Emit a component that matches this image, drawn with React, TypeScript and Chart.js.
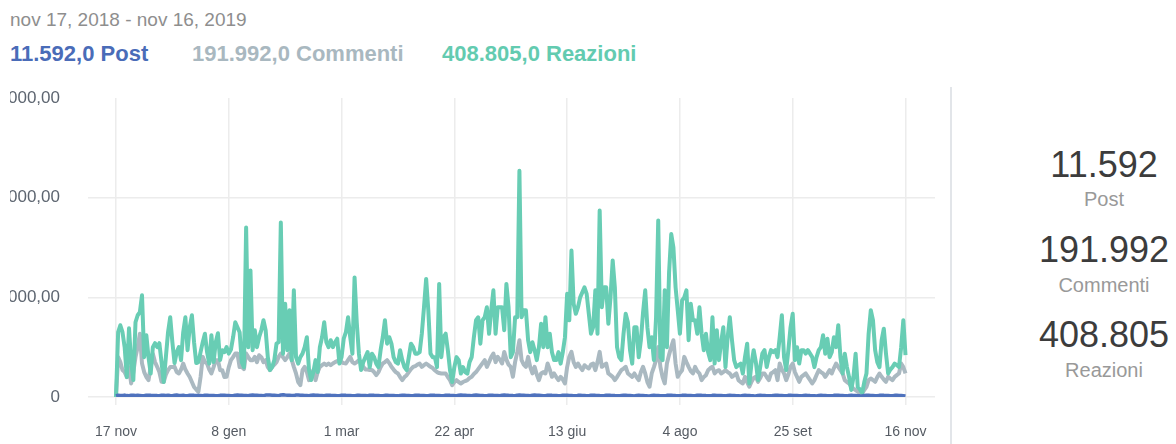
import React, { useEffect, useRef } from "react";
import { Chart, registerables } from "chart.js";

Chart.register(...registerables);

// ---------- data ----------
const dateRange = "nov 17, 2018 - nov 16, 2019";
const seriesNames = ["Post", "Commenti", "Reazioni"];
const seriesTotals = ["11.592,0", "191.992,0", "408.805,0"];
const panelTotals = ["11.592", "191.992", "408.805"];

const xTickDays = [0, 52, 104, 156, 208, 260, 312, 364];
const xTickLabels = ["17 nov", "8 gen", "1 mar", "22 apr", "13 giu", "4 ago", "25 set", "16 nov"];
const yTickValues = [0, 2000, 4000, 6000];
const yTickLabels = ["0", "2.000,00", "4.000,00", "6.000,00"];

const reactionValues = [
  0, 1300, 1440, 1300, 1000, 400, 1380, 700, 340, 1500,
  1640, 1700, 2040, 800, 1240, 800, 470, 1000, 1080, 1000,
  1080, 700, 300, 800, 1300, 1600, 1100, 680, 900, 1000,
  740, 1300, 1600, 940, 1400, 1640, 1100, 680, 700, 900,
  1100, 1270, 900, 670, 1240, 700, 1100, 1280, 740, 940,
  900, 1000, 870, 950, 1200, 1500, 1400, 1300, 700, 600,
  3400, 1000, 2540, 940, 1340, 1000, 1200, 1340, 1540, 1340,
  800, 540, 600, 740, 1070, 1100, 3500, 870, 1870, 940,
  1740, 740, 2140, 800, 670, 800, 870, 1000, 1200, 540,
  340, 500, 740, 500, 1000, 1200, 1500, 1100, 1000, 1140,
  1000, 1100, 1170, 670, 800, 1170, 1300, 1600, 1200, 870,
  2400, 1500, 870, 540, 700, 800, 900, 600, 870, 800,
  670, 600, 940, 1200, 1540, 1070, 1200, 1070, 800, 700,
  670, 940, 740, 600, 540, 800, 1070, 1000, 870, 870,
  900, 1270, 1800, 2370, 1740, 870, 800, 800, 600, 2270,
  800, 1200, 1270, 940, 540, 300, 600, 800, 740, 470,
  600, 500, 470, 700, 800, 1200, 1540, 1600, 1070, 1540,
  1600, 1800, 1270, 1740, 2140, 1270, 1800, 1800, 1800, 1340,
  2270, 1800, 800, 900, 1600, 1600, 4540, 1600, 1740, 1740,
  1140, 900, 1100, 940, 740, 1000, 1470, 1000, 1600, 1000,
  1270, 900, 740, 740, 900, 670, 900, 1200, 2070, 1540,
  2940, 1870, 1670, 1800, 2000, 2100, 2200, 2070, 1670, 1270,
  1400, 2140, 1270, 3740, 1800, 2200, 2200, 1470, 2000, 2740,
  2200, 1000, 800, 740, 1270, 1670, 1500, 940, 670, 1400,
  1400, 800, 1140, 1700, 2140, 1400, 1000, 1200, 740, 1600,
  3540, 800, 740, 2140, 1000, 2500, 3270, 3000, 2200, 1740,
  1270, 1940, 2000, 2140, 1140, 1870, 1540, 1540, 1270, 1800,
  1270, 940, 1270, 900, 740, 1600, 670, 1340, 740, 1100,
  1400, 600, 1200, 1600, 1140, 740, 600, 640, 670, 470,
  800, 1070, 270, 670, 940, 700, 340, 600, 870, 940,
  600, 800, 940, 900, 940, 800, 1200, 1640, 800, 540,
  940, 1400, 1670, 740, 1000, 670, 940, 940, 870, 940,
  870, 800, 600, 800, 940, 1000, 1240, 870, 1170, 800,
  900, 1200, 1000, 1440, 800, 470, 870, 600, 400, 140,
  400, 870, 200, 150, 80, 300, 470, 1270, 1740, 1540,
  940, 700, 600, 1140, 1370, 870, 470, 550, 600, 670,
  640, 600, 1000, 1540, 840,
];

const commentValues = [
  0, 800, 700, 540, 500, 400, 600, 272, 500, 800,
  1000, 1270, 670, 500, 400, 340, 600, 870, 700, 605,
  500, 305, 300, 450, 540, 600, 600, 605, 500, 472,
  550, 672, 550, 472, 400, 300, 200, 150, 105, 400,
  805, 700, 672, 550, 472, 600, 738, 738, 538, 538,
  400, 405, 600, 738, 800, 872, 872, 600, 605, 560,
  872, 800, 738, 738, 805, 700, 838, 800, 700, 738,
  600, 538, 605, 650, 700, 805, 872, 800, 738, 800,
  872, 750, 605, 472, 300, 238, 538, 605, 500, 338,
  450, 538, 338, 500, 605, 640, 672, 640, 672, 640,
  672, 700, 720, 738, 700, 680, 672, 740, 805, 700,
  672, 700, 738, 700, 605, 550, 550, 540, 540, 500,
  438, 500, 600, 672, 700, 738, 680, 605, 550, 500,
  472, 400, 338, 400, 438, 500, 560, 605, 620, 650,
  672, 605, 640, 672, 640, 605, 580, 538, 500, 480,
  472, 472, 472, 400, 338, 238, 300, 338, 300, 272,
  300, 320, 338, 380, 405, 460, 500, 560, 620, 680,
  738, 605, 700, 800, 872, 700, 805, 750, 672, 905,
  750, 650, 605, 405, 700, 900, 1138, 738, 650, 605,
  805, 600, 472, 605, 450, 338, 472, 500, 472, 672,
  550, 405, 472, 400, 338, 405, 350, 272, 600, 805,
  905, 700, 605, 672, 600, 538, 638, 600, 572, 650,
  672, 538, 700, 905, 605, 640, 672, 472, 440, 405,
  338, 400, 472, 538, 570, 605, 472, 440, 405, 472,
  400, 338, 500, 605, 472, 300, 205, 472, 600, 738,
  1005, 605, 400, 272, 672, 850, 1005, 1140, 672, 405,
  480, 538, 805, 700, 605, 520, 472, 605, 520, 472,
  338, 400, 438, 538, 580, 605, 472, 520, 538, 472,
  500, 538, 500, 472, 405, 440, 472, 338, 300, 272,
  405, 300, 205, 305, 380, 405, 305, 380, 472, 472,
  400, 338, 472, 500, 538, 338, 672, 550, 472, 338,
  450, 605, 672, 500, 405, 305, 405, 440, 472, 405,
  340, 272, 338, 440, 538, 500, 472, 405, 470, 538,
  472, 580, 672, 605, 540, 472, 338, 300, 272, 205,
  170, 138, 105, 90, 72, 140, 205, 338, 372, 340,
  305, 400, 472, 405, 350, 305, 405, 370, 338, 405,
  440, 472, 672, 600, 472,
];

const postValues = [
  20, 35, 32, 30, 38, 28, 25, 34, 36, 31,
  33, 30, 27, 24, 35, 37, 33, 30, 32, 28,
  25, 36, 34, 31, 33, 29, 26, 35, 38, 32,
  30, 33, 27, 25, 34, 36, 33, 31, 30, 28,
  26, 35, 37, 32, 30, 31, 27, 24, 33, 36,
  34, 32, 30, 27, 25, 36, 38, 35, 33, 30,
  28, 25, 37, 40, 36, 34, 31, 29, 26, 38,
  42, 39, 35, 33, 30, 27, 40, 44, 38, 36,
  33, 30, 28, 39, 41, 37, 34, 31, 29, 27,
  36, 38, 35, 33, 30, 28, 26, 35, 37, 34,
  32, 30, 27, 25, 34, 36, 33, 31, 29, 26,
  24, 33, 35, 32, 30, 28, 25, 34, 37, 33,
  31, 29, 27, 24, 33, 36, 32, 30, 28, 25,
  23, 32, 35, 33, 31, 29, 26, 24, 34, 36,
  33, 31, 29, 27, 25, 35, 37, 34, 32, 30,
  27, 25, 34, 36, 33, 31, 28, 26, 35, 38,
  35, 33, 31, 28, 25, 36, 38, 35, 32, 30,
  27, 24, 34, 37, 34, 32, 29, 26, 36, 39,
  36, 33, 31, 28, 26, 37, 40, 37, 34, 31,
  29, 26, 35, 38, 35, 33, 30, 27, 25, 34,
  36, 33, 31, 29, 26, 24, 34, 36, 33, 30,
  28, 25, 23, 33, 35, 32, 30, 27, 25, 34,
  37, 34, 32, 29, 27, 24, 34, 36, 33, 31,
  28, 26, 23, 32, 35, 33, 30, 28, 25, 22,
  32, 34, 31, 29, 27, 24, 22, 31, 34, 32,
  30, 27, 25, 23, 33, 35, 33, 31, 28, 26,
  24, 33, 36, 33, 31, 29, 26, 24, 34, 36,
  33, 31, 28, 26, 23, 33, 35, 32, 30, 28,
  25, 23, 32, 34, 32, 30, 27, 25, 22, 31,
  34, 31, 29, 27, 24, 22, 32, 34, 32, 30,
  27, 25, 23, 32, 35, 33, 30, 28, 25, 23,
  33, 35, 32, 30, 28, 25, 23, 32, 34, 32,
  29, 27, 25, 22, 32, 35, 32, 30, 27, 25,
  23, 33, 35, 33, 30, 28, 25, 23, 31, 34,
  31, 29, 27, 24, 22, 32, 35, 33, 30, 28,
  26, 24, 33, 36, 33, 31, 29, 26, 24, 33,
  35, 32, 30, 27, 22,
];

// ---------- styles ----------
const FONT = "'Liberation Sans', Arial, Helvetica, sans-serif";
const BLUE = "#4f72bd";
const GRAY = "#aab9c1";
const GREEN = "#68cdb4";
const textSeriesColors = ["#4a6cb8", "#a9b8c0", "#63cbb0"];
const GRID = "#ececec";

const toPoints = (arr: number[]) => arr.map((v, i) => ({ x: i, y: v }));

export default function App() {
  const canvasRef = useRef<HTMLCanvasElement>(null);

  useEffect(() => {
    if (!canvasRef.current) return;
    const chart = new Chart(canvasRef.current, {
      type: "line",
      data: {
        datasets: [
          {
            label: seriesNames[0],
            data: toPoints(postValues),
            borderColor: BLUE,
            borderWidth: 3.5,
            pointRadius: 0,
            tension: 0,
            borderJoinStyle: "round",
          },
          {
            label: seriesNames[2],
            data: toPoints(reactionValues),
            borderColor: GREEN,
            borderWidth: 4,
            pointRadius: 0,
            tension: 0,
            borderJoinStyle: "round",
          },
          {
            label: seriesNames[1],
            data: toPoints(commentValues),
            borderColor: GRAY,
            borderWidth: 4,
            pointRadius: 0,
            tension: 0,
            borderJoinStyle: "round",
          },
        ],
      },
      options: {
        responsive: false,
        animation: false,
        events: [],
        layout: { padding: 0 },
        plugins: {
          legend: { display: false },
          tooltip: { enabled: false },
        },
        scales: {
          x: {
            type: "linear",
            min: -12.9,
            max: 377.6,
            afterBuildTicks: (axis: any) => {
              axis.ticks = xTickDays.map((v) => ({ value: v }));
            },
            afterFit: (axis: any) => {
              axis.height = 44;
              axis.paddingLeft = 0;
              axis.paddingRight = 0;
            },
            border: { display: false },
            grid: {
              color: GRID,
              lineWidth: 1.5,
              tickLength: 8,
              drawTicks: true,
            },
            ticks: {
              autoSkip: false,
              maxRotation: 0,
              padding: 19,
              color: "#555b63",
              font: { family: FONT, size: 14 },
              callback: (_v: any, i: number) => xTickLabels[i],
            },
          },
          y: {
            min: 0,
            max: 6000,
            afterBuildTicks: (axis: any) => {
              axis.ticks = yTickValues.map((v) => ({ value: v }));
            },
            afterFit: (axis: any) => {
              axis.width = 78;
              axis.paddingTop = 10;
              axis.paddingBottom = 10;
            },
            border: { display: false },
            grid: {
              color: (ctx: any) =>
                ctx.tick && ctx.tick.value === yTickValues[yTickValues.length - 1]
                  ? "rgba(0,0,0,0)"
                  : GRID,
              lineWidth: 1.5,
              drawTicks: false,
            },
            ticks: {
              padding: 28,
              color: "#5d6570",
              font: { family: FONT, size: 17 },
              callback: (_v: any, i: number) => yTickLabels[i],
            },
          },
        },
      },
    });
    return () => chart.destroy();
  }, []);

  const rowLefts = [10, 192, 442];
  const panelRows = [
    { numTop: 143.7, labTop: 187.7 },
    { numTop: 228.7, labTop: 273.7 },
    { numTop: 313.7, labTop: 358.7 },
  ];

  return (
    <div
      style={{
        position: "absolute",
        left: 0,
        top: 0,
        width: 1176,
        height: 444,
        overflow: "hidden",
        background: "#ffffff",
        fontFamily: FONT,
      }}
    >
      <div
        style={{
          position: "absolute",
          left: 10,
          top: 9.3,
          fontSize: 19,
          color: "#8e8e8e",
          whiteSpace: "nowrap",
        }}
      >
        {dateRange}
      </div>
      {seriesNames.map((name, i) => (
        <div
          key={name}
          style={{
            position: "absolute",
            left: rowLefts[i],
            top: 40.6,
            fontSize: 22,
            fontWeight: 700,
            color: textSeriesColors[i],
            whiteSpace: "nowrap",
          }}
        >
          {seriesTotals[i]} {name}
        </div>
      ))}

      <div style={{ position: "absolute", left: 10, top: 88, width: 925, height: 353 }}>
        <canvas ref={canvasRef} width={925} height={353} style={{ display: "block" }} />
      </div>

      <div
        style={{
          position: "absolute",
          left: 950,
          top: 87,
          width: 2,
          height: 357,
          background: "#e2e5e9",
        }}
      />

      {seriesNames.map((name, i) => (
        <React.Fragment key={"p" + name}>
          <div
            style={{
              position: "absolute",
              left: 1004,
              width: 200,
              top: panelRows[i].numTop,
              textAlign: "center",
              fontSize: 36,
              color: "#3c3c3c",
              whiteSpace: "nowrap",
            }}
          >
            {panelTotals[i]}
          </div>
          <div
            style={{
              position: "absolute",
              left: 1004,
              width: 200,
              top: panelRows[i].labTop,
              textAlign: "center",
              fontSize: 20,
              color: "#999999",
              whiteSpace: "nowrap",
            }}
          >
            {name}
          </div>
        </React.Fragment>
      ))}
    </div>
  );
}
